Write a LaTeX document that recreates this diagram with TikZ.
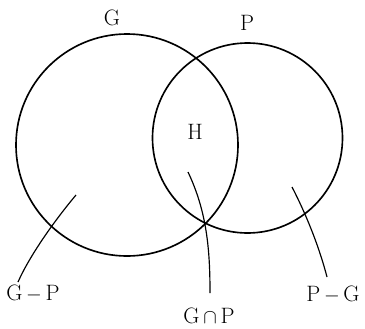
\documentclass[tikz,border=0pt]{standalone}
\usetikzlibrary{positioning}
\begin{document}
\begin{tikzpicture}[x=0.03cm, y=-0.03cm,
  set/.style={draw, circle, line width=1.4pt, inner sep=0pt},
  lbl/.style={font=\fontsize{19}{22}\selectfont, inner sep=1pt},
  lead/.style={line width=1pt}
]
  \useasboundingbox (0,0) rectangle (365,328);
  % The two sets
  \node[set, minimum size=6.66cm] (G) at (127,145) {};
  \node[set, minimum size=5.7cm] (P) at (247.5,138) {};

  % Names
  \node[lbl] (gname) at (112,18) {G};
  \node[lbl] (pname) at (247,23) {P};
  \node[lbl] (h) at (195,132) {H};
  \node[lbl] (gmp) at (33,294) {G\,$-$\,P};
  \node[lbl] (gcp) at (209,316) {G\,$\cap$\,P};
  \node[lbl] (pmg) at (333,295) {P\,$-$\,G};

  % Leader lines
  \coordinate (gmpin) at (76,195);
  \coordinate (gmpend) at (18,282);
  \coordinate (gcpin) at (188,172);
  \coordinate (gcpend) at (210,293);
  \coordinate (pmgin) at (292,187);
  \coordinate (pmgend) at (327,277);
  \draw[lead] (gmpin) .. controls (55,220) and (30,255) .. (gmpend);
  \draw[lead] (gcpin) .. controls (207,212) and (210,250) .. (gcpend);
  \draw[lead] (pmgin) .. controls (308,218) and (320,250) .. (pmgend);
\end{tikzpicture}
\end{document}
